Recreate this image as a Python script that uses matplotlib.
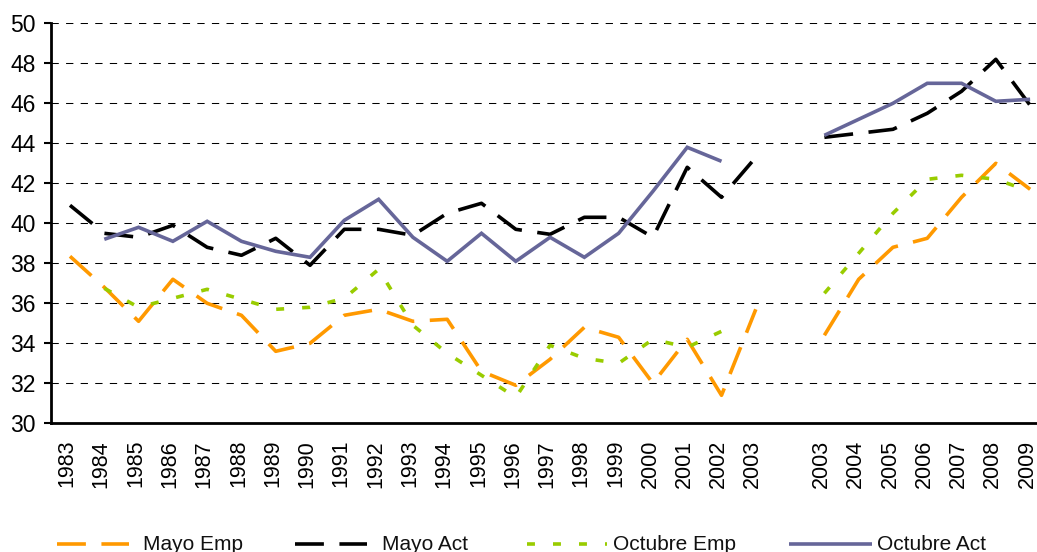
import numpy as np
import matplotlib
matplotlib.use("Agg")
import matplotlib.pyplot as plt
from matplotlib.lines import Line2D
from matplotlib.transforms import ScaledTranslation

plt.rcParams['font.family'] = ['Liberation Sans', 'DejaVu Sans']

nan = np.nan
labels = ['1983', '1984', '1985', '1986', '1987', '1988', '1989', '1990', '1991', '1992',
          '1993', '1994', '1995', '1996', '1997', '1998', '1999', '2000', '2001', '2002',
          '2003', '', '2003', '2004', '2005', '2006', '2007', '2008', '2009']

mayo_emp = [38.35, 36.8, 35.1, 37.2, 36.0, 35.4, 33.6, 34.0, 35.4, 35.7,
            35.1, 35.2, 32.6, 31.9, 33.2, 34.8, 34.3, 32.0, 34.2, 31.4,
            35.7, nan, 34.4, 37.2, 38.8, 39.25, 41.3, 43.0, 41.7]
mayo_act = [40.9, 39.5, 39.3, 39.9, 38.8, 38.4, 39.25, 37.9, 39.7, 39.7,
            39.4, 40.5, 41.0, 39.7, 39.45, 40.3, 40.3, 39.3, 42.8, 41.3,
            43.3, nan, 44.3, 44.5, 44.7, 45.5, 46.6, 48.2, 45.9]
oct_emp = [nan, 36.75, 35.8, 36.25, 36.7, 36.2, 35.7, 35.8, 36.25, 37.7,
           34.9, 33.5, 32.4, 31.3, 33.9, 33.25, 33.0, 34.2, 33.8, 34.6,
           nan, nan, 36.5, 38.5, 40.5, 42.2, 42.4, 42.2, 41.6]
oct_act = [nan, 39.2, 39.8, 39.1, 40.1, 39.1, 38.6, 38.3, 40.15, 41.2,
           39.3, 38.1, 39.5, 38.1, 39.3, 38.3, 39.5, 41.6, 43.8, 43.1,
           nan, nan, 44.4, 45.2, 46.0, 47.0, 47.0, 46.1, 46.2]

series = [
    ("Mayo Emp", mayo_emp, "#FF9900", (0, (8.0, 4.3))),
    ("Mayo Act", mayo_act, "#000000", (0, (8.0, 4.3))),
    ("Octubre Emp", oct_emp, "#99CC00", (0, (2.2, 5.0))),
    ("Octubre Act", oct_act, "#666699", "-"),
]

W, H = 1037, 552
fig = plt.figure(figsize=(W / 100, H / 100), dpi=100)
ax = fig.add_axes([51 / W, (H - 423.3) / H, (W - 51) / W, 400 / H])

x = np.arange(len(labels))
lw = 2.6
for name, vals, col, ls in series:
    ax.plot(x, vals, color=col, linestyle=ls, linewidth=lw, zorder=3,
            solid_joinstyle='miter', dash_capstyle='butt', solid_capstyle='butt')

ax.set_xlim(-0.554, (W - 70) / 34.29)
ax.set_ylim(30, 50)
ax.set_yticks(np.arange(30, 51, 2))
ax.set_xticks(x)
ax.set_xticklabels(labels, rotation=90, fontsize=15.5, va='top', ha='center')
ax.tick_params(axis='x', length=0, pad=12)
ax.tick_params(axis='y', length=5, width=1.5, pad=6, labelsize=16.5, direction='out')
shift = ScaledTranslation(-3 / 100, 0, fig.dpi_scale_trans)
for lab in ax.get_xticklabels():
    lab.set_transform(lab.get_transform() + shift)

for yv in np.arange(32, 51, 2):
    ax.axhline(yv, color='black', linewidth=0.75, linestyle=(0, (7, 7)), zorder=1)

for s in ['top', 'right']:
    ax.spines[s].set_visible(False)
ax.spines['left'].set_linewidth(2)
ax.spines['bottom'].set_linewidth(2)

# legend (manual)
ly = 1 - 544 / H
legend_items = [
    (57, 129, 143),
    (295, 367, 382),
    (527, 607, 613),
    (789, 872, 877),
]
for (name, vals, col, ls), (x0, x1, tx) in zip(series, legend_items):
    fig.add_artist(Line2D([x0 / W, x1 / W], [ly, ly], transform=fig.transFigure,
                          color=col, linestyle=ls, linewidth=lw,
                          dash_capstyle='butt', solid_capstyle='butt'))
    fig.text(tx / W, ly, name, fontsize=15, va='center', ha='left', color='#111111')

fig.savefig("out.png", dpi=100)
